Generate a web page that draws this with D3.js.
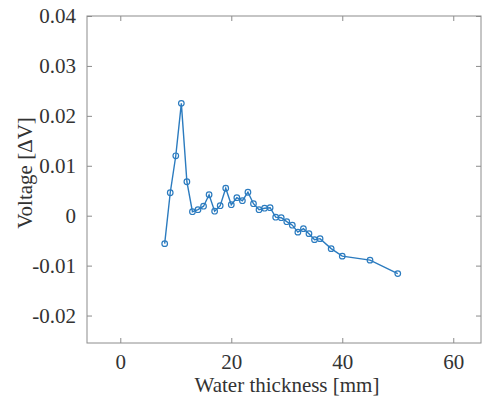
<!DOCTYPE html>
<html>
<head>
<meta charset="utf-8">
<script src="https://cdn.jsdelivr.net/npm/d3@7"></script>
<style>
  html, body { margin: 0; padding: 0; background: #fff; }
  svg { display: block; }
  svg text { font-family: "Liberation Serif", "Times New Roman", "DejaVu Serif", serif !important; }
</style>
</head>
<body>
<svg id="chart" width="482" height="397"></svg>
<script>
const thickness = [8, 9, 10, 11, 12, 13, 14, 15, 16, 17, 18, 19, 20, 21, 22, 23, 24, 25, 26, 27, 28, 29, 30, 31, 32, 33, 34, 35, 36, 38, 40, 45, 50];
const voltage = [-0.0056, 0.0046, 0.0120, 0.0225, 0.0068, 0.0008, 0.0012, 0.0019, 0.0042, 0.0009, 0.0020, 0.0055, 0.0022, 0.0036, 0.0030, 0.0047, 0.0024, 0.0012, 0.0015, 0.0016, -0.0003, -0.0004, -0.0012, -0.0019, -0.0033, -0.0026, -0.0036, -0.0048, -0.0046, -0.0066, -0.0081, -0.0089, -0.0116];
const xTicks = [0, 20, 40, 60];
const yTicks = [-0.02, -0.01, 0, 0.01, 0.02, 0.03, 0.04];
const xDomain = [-6, 65];
const yDomain = [-0.0255, 0.04];

const m = { left: 87, right: 481, top: 16, bottom: 343 };
const axisColor = "#8c8c8c";
const textColor = "#333333";
const lineColor = "#2b7bbf";
const fontSize = "21px";

const svg = d3.select("#chart");
const x = d3.scaleLinear().domain(xDomain).range([m.left, m.right]);
const y = d3.scaleLinear().domain(yDomain).range([m.bottom, m.top]);
const tickLen = 5;

function styleAxis(g, showLabels) {
  g.attr("font-family", null).attr("font-size", null);
  g.select(".domain").remove();
  g.selectAll(".tick line").attr("stroke", axisColor).attr("stroke-width", 1);
  g.selectAll(".tick text")
    .attr("fill", textColor)
    .style("font-size", fontSize)
    .style("display", showLabels ? null : "none");
}

const fmtY = v => v === 0 ? "0" : d3.format(".2f")(v).replace("−", "-");

// bottom axis (inward ticks)
svg.append("g")
  .attr("transform", `translate(0,${m.bottom})`)
  .call(d3.axisBottom(x).tickValues(xTicks).tickSize(-tickLen).tickPadding(11).tickFormat(d3.format("d")))
  .call(g => styleAxis(g, true));
// top axis
svg.append("g")
  .attr("transform", `translate(0,${m.top})`)
  .call(d3.axisTop(x).tickValues(xTicks).tickSize(-tickLen))
  .call(g => styleAxis(g, false));
// left axis
svg.append("g")
  .attr("transform", `translate(${m.left},0)`)
  .call(d3.axisLeft(y).tickValues(yTicks).tickSize(-tickLen).tickPadding(11).tickFormat(fmtY))
  .call(g => styleAxis(g, true));
// right axis
svg.append("g")
  .attr("transform", `translate(${m.right},0)`)
  .call(d3.axisRight(y).tickValues(yTicks).tickSize(-tickLen))
  .call(g => styleAxis(g, false));

// box
svg.append("rect")
  .attr("x", m.left).attr("y", m.top)
  .attr("width", m.right - m.left).attr("height", m.bottom - m.top)
  .attr("fill", "none").attr("stroke", axisColor).attr("stroke-width", 1);

const data = thickness.map((t, i) => ({ t, v: voltage[i] }));

svg.append("path")
  .datum(data)
  .attr("fill", "none")
  .attr("stroke", lineColor)
  .attr("stroke-width", 1.4)
  .attr("d", d3.line().x(d => x(d.t)).y(d => y(d.v)));

svg.append("g").selectAll("circle")
  .data(data).join("circle")
  .attr("cx", d => x(d.t)).attr("cy", d => y(d.v))
  .attr("r", 2.8)
  .attr("fill", "none")
  .attr("stroke", lineColor)
  .attr("stroke-width", 1.2);

// axis labels
svg.append("text")
  .attr("x", 287).attr("y", 392)
  .attr("text-anchor", "middle")
  .attr("fill", textColor)
  .style("font-size", fontSize)
  .text("Water thickness [mm]");

svg.append("text")
  .attr("transform", "translate(32,173) rotate(-90)")
  .attr("text-anchor", "middle")
  .attr("fill", textColor)
  .style("font-size", fontSize)
  .text("Voltage [ΔV]");
</script>
</body>
</html>
